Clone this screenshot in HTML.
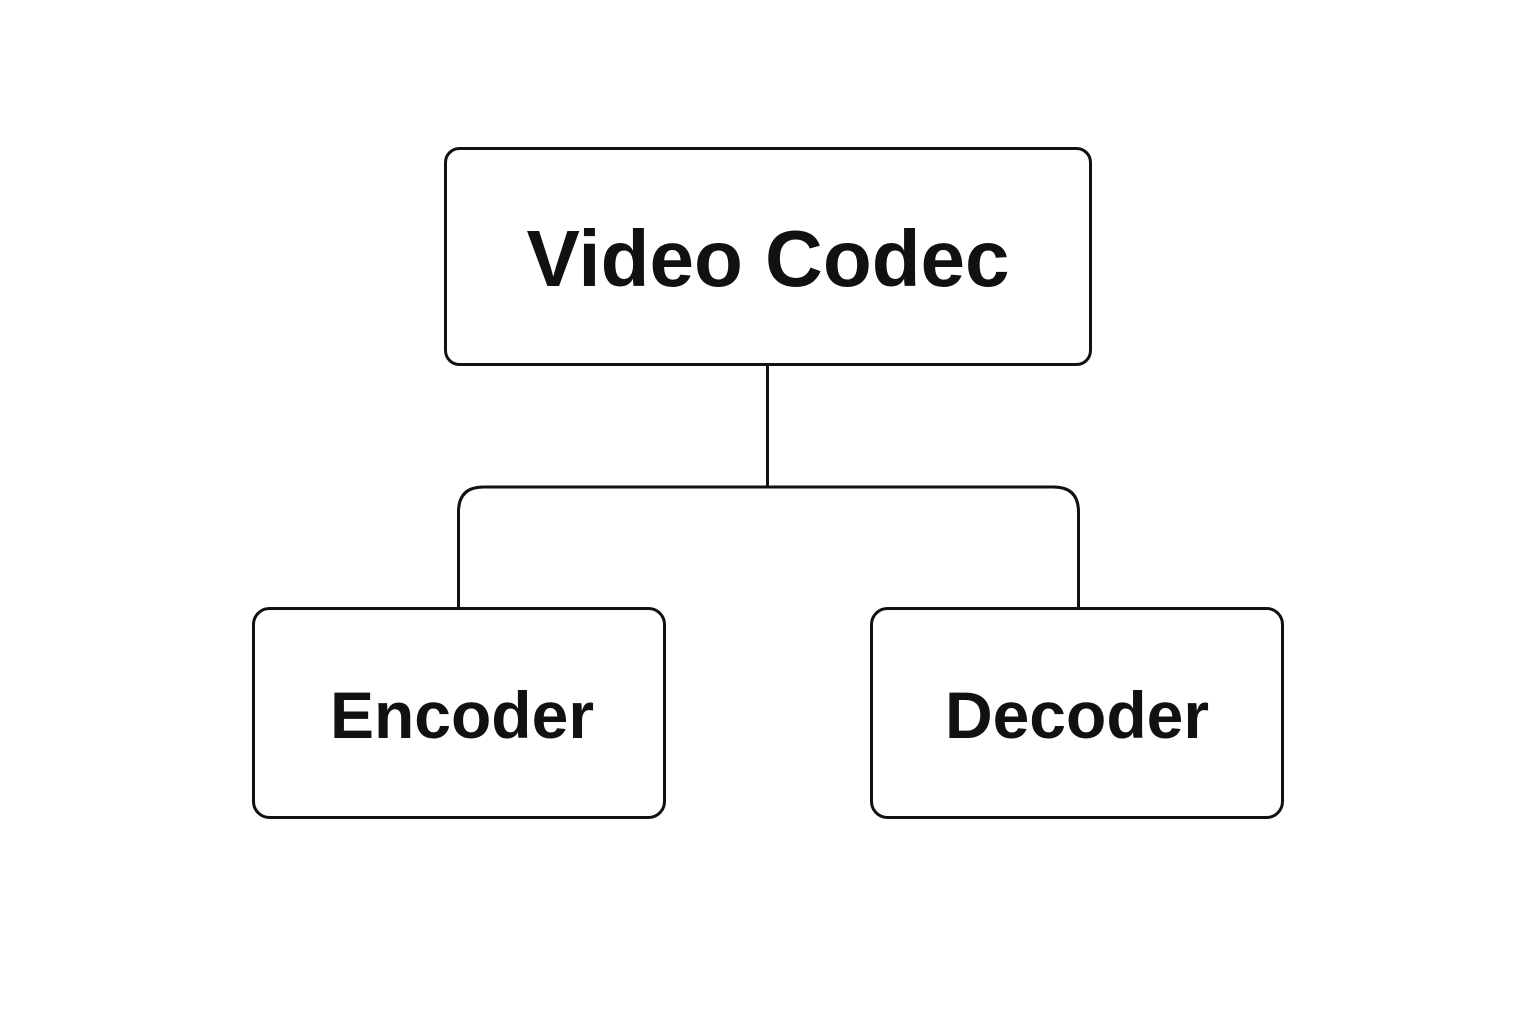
<!DOCTYPE html>
<html><head><meta charset="utf-8"><style>
html,body{margin:0;padding:0;background:#fff;}
svg{display:block;}
text{font-family:"Liberation Sans",sans-serif;font-weight:bold;fill:#111;text-anchor:middle;}
</style></head><body>
<svg width="1536" height="1024" viewBox="0 0 1536 1024">
<g fill="none" stroke="#111" stroke-width="3">
<rect x="445.5" y="148.5" width="645" height="216" rx="14"/>
<rect x="253.5" y="608.5" width="411" height="209" rx="16"/>
<rect x="871.5" y="608.5" width="411" height="209" rx="16"/>
<line x1="767.5" y1="365" x2="767.5" y2="487"/>
<path d="M458.5 608 V512 Q458.5 487 483.5 487 H1053.5 Q1078.5 487 1078.5 512 V608"/>
</g>
<text x="768" y="286" font-size="80">Video Codec</text>
<text x="462" y="738" font-size="66">Encoder</text>
<text x="1077" y="738" font-size="66">Decoder</text>
</svg>
</body></html>
